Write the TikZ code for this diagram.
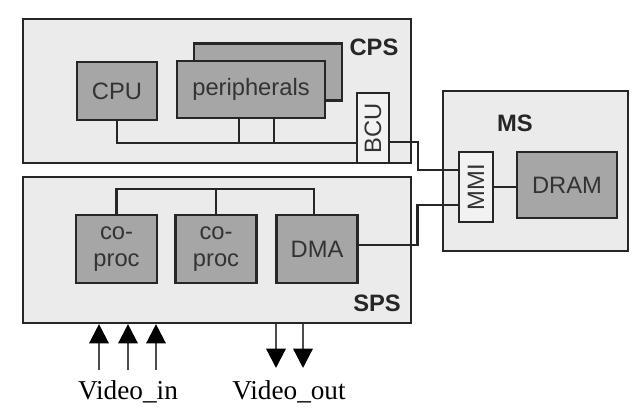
\documentclass[tikz,border=0pt]{standalone}
\usepackage{fontspec}
\setmainfont{Liberation Sans}
\newfontfamily\vidfont{Liberation Serif}
\usetikzlibrary{arrows.meta}

\begin{document}
\begin{tikzpicture}[
  font=\fontsize{13.5}{15}\selectfont,
  subsys/.style={draw=black!85, line width=1.2pt, fill=gray!16, inner sep=0pt},
  unit/.style={draw=black!85, line width=1.2pt, fill=gray!70, text=black!80, align=center, inner sep=0pt},
  bridge/.style={draw=black!85, line width=1.2pt, fill=gray!10, inner sep=0pt, text=black!80},
  tag/.style={font=\fontsize{13.5}{15}\selectfont\bfseries, text=black!85},
  wire/.style={draw=black!85, line width=1.3pt},
  vid/.style={draw=black!70, line width=1.3pt, -{Triangle[width=11pt,length=11pt,black]}},
  vidlabel/.style={font=\fontsize{15.5}{17}\selectfont\vidfont}
]
\useasboundingbox (0,0) rectangle (12.66,8.36);

% subsystems
\node[subsys, minimum width=7.76cm, minimum height=2.88cm] (cps) at (4.34, 6.54) {};
\node[subsys, minimum width=7.76cm, minimum height=2.92cm] (sps) at (4.34, 3.36) {};
\node[subsys, minimum width=3.7cm, minimum height=3.2cm] (ms) at (10.71, 4.94) {};
\node[tag] (cps_label) at (7.48, 7.42) {CPS};
\node[tag] (sps_label) at (7.54, 2.30) {SPS};
\node[tag] (ms_label) at (10.30, 5.90) {MS};

% CPS
\node[unit, minimum width=2.96cm, minimum height=1.14cm] (per_back) at (5.36, 6.92) {};
\node[unit, minimum width=2.96cm, minimum height=1.14cm] (per) at (5.02, 6.57) {peripherals};
\node[unit, minimum width=1.6cm, minimum height=1.16cm] (cpu) at (2.34, 6.54) {CPU};
\node[bridge, minimum width=0.64cm, minimum height=1.4cm] (bcu) at (7.46, 5.80) {\rotatebox{90}{BCU}};
\coordinate (ptap1) at (4.78, 5.50);
\coordinate (ptap2) at (5.48, 5.50);
\draw[wire] (cpu.south) |- ([yshift=-0.30cm]bcu.west);
\draw[wire] (ptap1) -- (ptap1 |- per.south);
\draw[wire] (ptap2) -- (ptap2 |- per.south);

% MS
\node[bridge, minimum width=0.68cm, minimum height=1.4cm] (mmi) at (9.52, 4.62) {\rotatebox{90}{MMI}};
\node[unit, minimum width=2.0cm, minimum height=1.32cm] (dram) at (11.34, 4.66) {DRAM};
\draw[wire] (mmi.east) -- (dram.west |- mmi.east);

% SPS
\node[unit, minimum width=1.62cm, minimum height=1.36cm] (coproc1) at (2.33, 3.38) {co-\\proc};
\node[unit, minimum width=1.62cm, minimum height=1.36cm] (coproc2) at (4.32, 3.38) {co-\\proc};
\node[unit, minimum width=1.62cm, minimum height=1.36cm] (dma) at (6.34, 3.38) {DMA};
\coordinate (sbus) at (4.32, 4.58);
\draw[wire] (coproc1.north) |- (sbus) -| ([xshift=-0.06cm]dma.north);
\draw[wire] (coproc2.north) -- (sbus);

% links to MMI
\draw[wire] ([yshift=-0.28cm]bcu.east) -- ++(0.56,0) |- ([yshift=0.34cm]mmi.west);
\draw[wire] ([yshift=0.08cm]dma.east) -- ++(1.18,0) |- ([yshift=-0.36cm]mmi.west);

% video ports
\coordinate (vin1) at (1.98, 0.96);
\coordinate (vin2) at (2.56, 0.96);
\coordinate (vin3) at (3.12, 0.96);
\coordinate (vout1) at (5.52, 1.00);
\coordinate (vout2) at (6.06, 1.00);
\draw[vid] (vin1) -- (vin1 |- sps.south);
\draw[vid] (vin2) -- (vin2 |- sps.south);
\draw[vid] (vin3) -- (vin3 |- sps.south);
\draw[vid] (vout1 |- sps.south) -- (vout1);
\draw[vid] (vout2 |- sps.south) -- (vout2);
\node[vidlabel] (video_in) at (2.56, 0.52) {Video\_in};
\node[vidlabel] (video_out) at (5.78, 0.52) {Video\_out};
\end{tikzpicture}
\end{document}
